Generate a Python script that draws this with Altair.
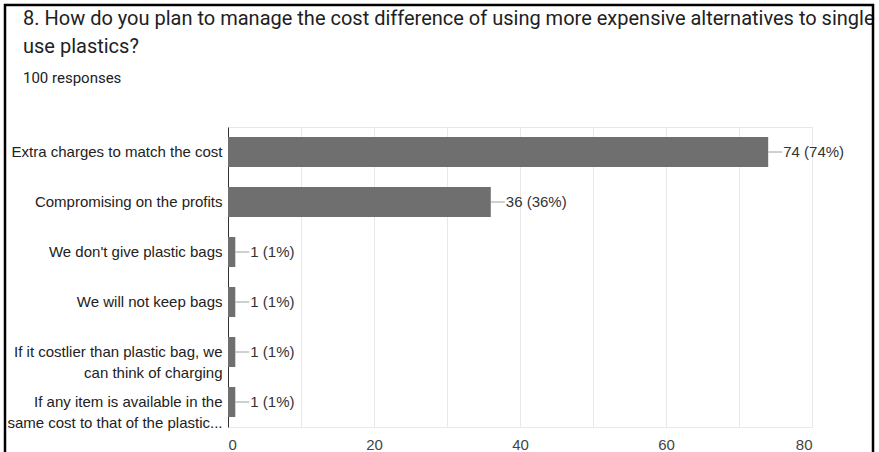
import altair as alt
import pandas as pd

title_lines = [
    "8. How do you plan to manage the cost difference of using more expensive alternatives to single",
    "use plastics?",
]
subtitle = "100 responses"

categories = [
    "Extra charges to match the cost",
    "Compromising on the profits",
    "We don't give plastic bags",
    "We will not keep bags",
    "If it costlier than plastic bag, we\ncan think of charging",
    "If any item is available in the\nsame cost to that of the plastic...",
]
counts = [74, 36, 1, 1, 1, 1]
percents = ["74%", "36%", "1%", "1%", "1%", "1%"]
x_ticks = [0, 10, 20, 30, 40, 50, 60, 70, 80]

df = pd.DataFrame({"answer": categories, "count": counts, "pct": percents})
df["label"] = df["count"].astype(str) + " (" + df["pct"] + ")"

FONT = "Liberation Sans"
TFONT = "Roboto"

y_enc = alt.Y(
    "answer:N",
    sort=categories,
    scale=alt.Scale(paddingInner=0.4, paddingOuter=0.2),
    axis=alt.Axis(
        title=None,
        labelExpr="split(datum.label, '\\n')",
        labelFont=FONT,
        labelFontSize=15,
        labelColor="#222222",
        labelLimit=400,
        labelPadding=6,
        labelLineHeight=21,
        ticks=False,
        domainColor="#333333",
        domainWidth=1,
        grid=False,
    ),
)
x_enc = alt.X(
    "count:Q",
    scale=alt.Scale(domain=[0, 80], nice=False),
    axis=alt.Axis(
        title=None,
        values=x_ticks,
        labelExpr="datum.value % 20 == 0 ? datum.label : ''",
        labelFont=FONT,
        labelFontSize=15,
        labelColor="#444444",
        labelPadding=10,
        ticks=False,
        domain=False,
        grid=True,
        gridColor="#e8e8e8",
    ),
)

base = alt.Chart(df)
bars = base.mark_bar(color="#6f6f6f").encode(x=x_enc, y=y_enc)
connector = base.mark_rule(color="#a0a0a0", strokeWidth=1, x2Offset=14).encode(
    x="count:Q", x2="count:Q", y=alt.Y("answer:N", sort=categories)
)
labels = base.mark_text(
    align="left", baseline="middle", dx=15, font=FONT, fontSize=15, color="#333333"
).encode(x="count:Q", y=alt.Y("answer:N", sort=categories), text="label:N")

# question title and response count, placed above the plot area
title1 = alt.Chart(pd.DataFrame({"t": [title_lines[0]]})).mark_text(
    align="left", baseline="alphabetic", font=TFONT, fontSize=20, color="#202124"
).encode(text="t:N", x=alt.value(-205), y=alt.value(-102))
title2 = alt.Chart(pd.DataFrame({"t": [title_lines[1]]})).mark_text(
    align="left", baseline="alphabetic", font=TFONT, fontSize=20, color="#202124"
).encode(text="t:N", x=alt.value(-205), y=alt.value(-74))
sub = alt.Chart(pd.DataFrame({"t": [subtitle]})).mark_text(
    align="left", baseline="alphabetic", font=TFONT, fontSize=15, color="#202124"
).encode(text="t:N", x=alt.value(-205), y=alt.value(-44))

frame = alt.Chart(pd.DataFrame({"f": [0]})).mark_rect(
    fillOpacity=0, stroke="black", strokeWidth=2.5
).encode(
    x=alt.value(-223), x2=alt.value(645), y=alt.value(-122), y2=alt.value(345)
)

chart = (
    alt.layer(bars, connector, labels, title1, title2, sub, frame)
    .properties(
        width=584,
        height=300,
        autosize=alt.AutoSizeParams(type="none"),
        padding={"left": 228, "top": 127, "right": 67, "bottom": 25},
        background="white",
    )
    .configure_view(stroke="#e8e8e8")
)

chart.save("out.html", embed_options={"renderer": "svg", "actions": False})
